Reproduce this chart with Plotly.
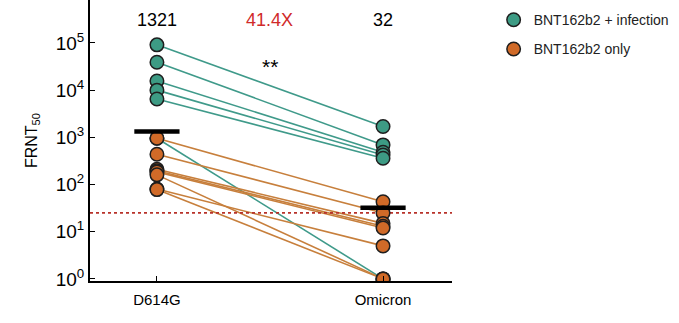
import plotly.graph_objects as go

# ---- data ----
variants = ["D614G", "Omicron"]
green_d614g = [91000, 39000, 15600, 10000, 6500, 955]
green_omicron = [1690, 690, 480, 420, 360, 1]
orange_d614g = [955, 438, 211, 195, 185, 160, 80, 78]
orange_omicron = [43, 25, 15, 13, 12, 1, 5, 1]
gmt = [1321, 32]
gmt_labels = ["1321", "32"]
fold_label = "41.4X"
sig_label = "**"
threshold = 25
ytick_vals = [1, 10, 100, 1000, 10000, 100000]
ytick_text = ["10<sup>0</sup>", "10<sup>1</sup>", "10<sup>2</sup>", "10<sup>3</sup>",
              "10<sup>4</sup>", "10<sup>5</sup>"]

GREEN = "#3d9b84"
GREEN_LINE = "#3f9a8a"
ORANGE = "#d06a28"
ORANGE_LINE = "#c77f3c"
EDGE = "#1e1e1e"
FONT = "Liberation Sans, Arial, sans-serif"

xpos = [0, 1]
fig = go.Figure()

for d, o in zip(green_d614g, green_omicron):
    fig.add_trace(go.Scatter(x=xpos, y=[d, o], mode="lines",
                             line=dict(color=GREEN_LINE, width=1.6),
                             showlegend=False, hoverinfo="skip"))
for d, o in zip(orange_d614g, orange_omicron):
    fig.add_trace(go.Scatter(x=xpos, y=[d, o], mode="lines",
                             line=dict(color=ORANGE_LINE, width=1.6),
                             showlegend=False, hoverinfo="skip"))

# threshold
fig.add_trace(go.Scatter(x=[-0.296, 1.305], y=[threshold, threshold], mode="lines",
                         line=dict(color="#b8322a", width=1.6, dash="dot"),
                         showlegend=False, hoverinfo="skip"))

mk = dict(size=13.5, line=dict(color=EDGE, width=1.5))
fig.add_trace(go.Scatter(x=[0] * len(green_d614g) + [1] * len(green_omicron),
                         y=green_d614g + green_omicron, mode="markers",
                         marker=dict(color=GREEN, **mk),
                         name="BNT162b2 + infection", legendgroup="g"))
fig.add_trace(go.Scatter(x=[0] * len(orange_d614g) + [1] * len(orange_omicron),
                         y=orange_d614g + orange_omicron, mode="markers",
                         marker=dict(color=ORANGE, **mk),
                         name="BNT162b2 only", legendgroup="o"))

# GMT bars
for xi, g in zip(xpos, gmt):
    fig.add_trace(go.Scatter(x=[xi - 0.1, xi + 0.1], y=[g, g], mode="lines",
                             line=dict(color="black", width=4.5),
                             showlegend=False, hoverinfo="skip"))

# annotations
for xi, t in zip(xpos, gmt_labels):
    fig.add_annotation(x=xi, y=0.929, xref="x", yref="paper", yanchor="middle",
                       text=t, showarrow=False,
                       font=dict(size=18, color="black", family=FONT))
fig.add_annotation(x=0.5, y=0.929, xref="x", yref="paper", yanchor="middle",
                   text=fold_label, showarrow=False,
                   font=dict(size=18, color="#d02a2a", family=FONT))
fig.add_annotation(x=0.5, y=0.762, xref="x", yref="paper", yanchor="middle",
                   text=sig_label, showarrow=False,
                   font=dict(size=21, color="black", family=FONT))

fig.update_layout(
    width=679, height=323,
    margin=dict(l=90, r=227, t=0, b=42),
    paper_bgcolor="white", plot_bgcolor="white",
    font=dict(family=FONT, color="black"),
    legend=dict(x=1.115, y=0.985, xanchor="left", yanchor="top",
                font=dict(size=14, family=FONT, color="#222"),
                tracegroupgap=8, itemwidth=30, bgcolor="rgba(0,0,0,0)"),
    xaxis=dict(range=[-0.296, 1.305], tickvals=xpos, ticktext=variants,
               showline=True, linecolor="black", linewidth=1.6,
               ticks="inside", ticklen=5, tickcolor="black", showgrid=False,
               zeroline=False, tickfont=dict(size=15, family=FONT),
               ticklabelstandoff=4),
    yaxis=dict(type="log", range=[-0.045, 5.91], tickvals=ytick_vals, ticktext=ytick_text,
               showline=True, linecolor="black", linewidth=2,
               ticks="inside", ticklen=5, tickcolor="black", showgrid=False,
               zeroline=False, tickfont=dict(size=19, family=FONT),
               title=dict(text="FRNT<sub>50</sub>", font=dict(size=16, family=FONT),
                          standoff=14)),
)

fig.write_html("out.html")
